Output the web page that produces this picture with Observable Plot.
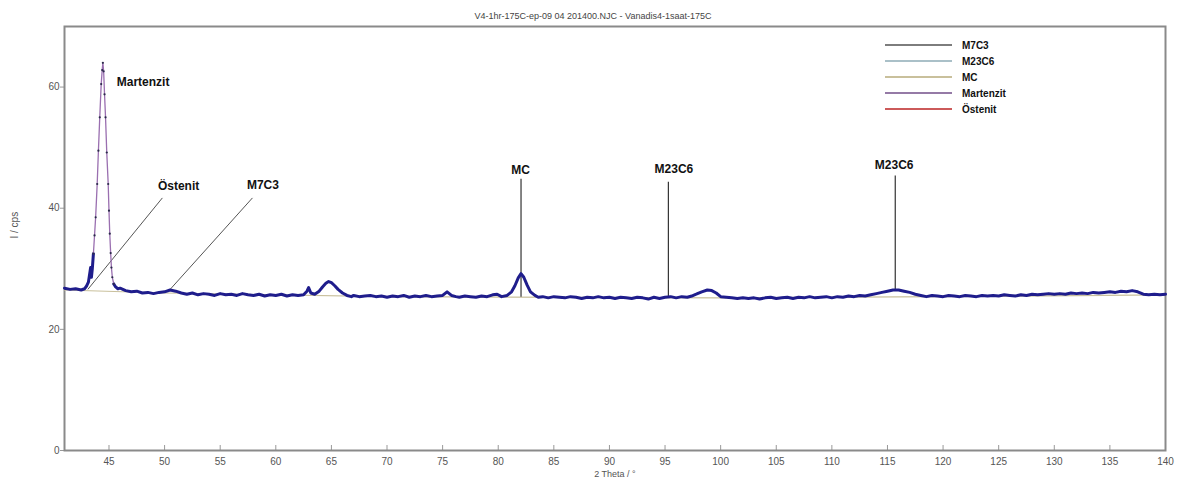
<!DOCTYPE html>
<html><head><meta charset="utf-8">
<script src="https://cdn.jsdelivr.net/npm/d3@7"></script>
<script src="https://cdn.jsdelivr.net/npm/@observablehq/plot@0.6"></script>
<style>
body{margin:0;background:#fff;font-family:"Liberation Sans",Arial,sans-serif;}
#wrap{position:relative;width:1184px;height:486px;}
#legend{position:absolute;left:885px;top:37px;font:bold 10px "Liberation Sans",Arial,sans-serif;color:#111;}
.row{display:flex;align-items:center;height:16px;}
.sw{width:67px;height:2px;margin-right:10px;}
</style></head><body><div id="wrap"><div id="legend"></div></div>
<script>
const title = "V4-1hr-175C-ep-09 04 201400.NJC - Vanadis4-1saat-175C";
const xLabel = "2 Theta / °";
const yLabel = "I / cps";
const xTicks = [45,50,55,60,65,70,75,80,85,90,95,100,105,110,115,120,125,130,135,140];
const yTicks = [0,20,40,60];

// measured scan: [2theta, intensity]
const scan = [
[41.0,26.8],[41.5,26.6],[42.0,26.7],[42.5,26.5],[42.8,26.7],[43.0,27.2],[43.15,27.8],[43.3,29.6],[43.35,30.2],[43.42,28.6],[43.5,30.0],[43.6,32.5],
[43.7,35.5],[43.8,38.5],[43.94,44.0],[44.05,49.5],[44.17,55.0],[44.3,60.5],[44.39,62.8],[44.45,64.0],[44.52,62.6],[44.6,58.8],[44.69,55.0],[44.8,49.2],
[44.93,44.0],[45.0,39.6],[45.07,35.8],[45.15,32.6],[45.22,30.2],[45.3,28.6],[45.43,27.5],[45.6,27.0],[45.8,26.7],[46.0,26.8],[46.5,26.4],[47.0,26.2],
[47.5,26.3],[48.0,26.0],[48.5,26.1],[49.0,25.9],[49.5,26.1],[50.0,26.2],[50.5,26.5],[51.0,26.3],[51.5,26.0],[52.0,25.8],[52.5,26.0],[53.0,25.7],
[53.5,25.9],[54.0,25.8],[54.5,25.6],[55.0,25.9],[55.5,25.7],[56.0,25.8],[56.5,25.6],[57.0,25.9],[57.5,25.7],[58.0,25.6],[58.5,25.8],[59.0,25.5],
[59.5,25.7],[60.0,25.6],[60.5,25.8],[61.0,25.5],[61.5,25.7],[62.0,25.6],[62.5,25.7],[62.8,26.3],[62.95,26.9],[63.15,26.0],[63.5,25.8],[63.9,26.3],
[64.2,27.0],[64.5,27.6],[64.75,27.9],[65.0,27.7],[65.3,27.2],[65.6,26.6],[66.0,26.0],[66.4,25.6],[66.8,25.4],[67.0,25.6],[67.5,25.4],[68.0,25.5],
[68.5,25.6],[69.0,25.4],[69.5,25.5],[70.0,25.3],[70.5,25.5],[71.0,25.4],[71.5,25.6],[72.0,25.3],[72.5,25.5],[73.0,25.4],[73.5,25.6],[74.0,25.4],
[74.5,25.5],[75.0,25.6],[75.4,26.2],[75.8,25.6],[76.2,25.4],[76.5,25.3],[77.0,25.5],[77.5,25.4],[78.0,25.3],[78.5,25.5],[79.0,25.4],[79.5,25.7],
[79.9,25.8],[80.3,25.4],[80.8,25.6],[81.2,26.2],[81.5,27.2],[81.8,28.5],[82.05,29.2],[82.3,28.6],[82.6,27.3],[82.9,26.2],[83.3,25.6],[83.6,25.3],
[84.0,25.4],[84.5,25.2],[85.0,25.4],[85.5,25.3],[86.0,25.2],[86.5,25.4],[87.0,25.3],[87.5,25.1],[88.0,25.3],[88.5,25.2],[89.0,25.4],[89.5,25.2],
[90.0,25.3],[90.5,25.1],[91.0,25.3],[91.5,25.2],[92.0,25.1],[92.5,25.3],[93.0,25.2],[93.5,25.0],[94.0,25.3],[94.5,25.1],[95.0,25.3],[95.5,25.4],
[96.0,25.2],[96.5,25.4],[97.0,25.3],[97.4,25.5],[97.8,25.8],[98.3,26.2],[98.8,26.5],[99.2,26.4],[99.6,26.0],[100.0,25.4],[100.5,25.3],[101.0,25.2],
[101.5,25.1],[102.0,25.2],[102.5,25.1],[103.0,25.2],[103.5,25.0],[104.0,25.2],[104.5,25.3],[105.0,25.1],[105.5,25.2],[106.0,25.3],[106.5,25.1],
[107.0,25.3],[107.5,25.2],[108.0,25.4],[108.5,25.2],[109.0,25.3],[109.5,25.4],[110.0,25.2],[110.5,25.4],[111.0,25.3],[111.5,25.5],[112.0,25.4],
[112.5,25.6],[113.0,25.5],[113.5,25.7],[114.0,25.9],[114.5,26.1],[115.0,26.3],[115.5,26.5],[116.0,26.5],[116.5,26.3],[117.0,26.1],[117.5,25.8],
[118.0,25.6],[118.5,25.4],[119.0,25.6],[119.5,25.5],[120.0,25.4],[120.5,25.6],[121.0,25.5],[121.5,25.4],[122.0,25.6],[122.5,25.5],[123.0,25.4],
[123.5,25.6],[124.0,25.5],[124.5,25.6],[125.0,25.5],[125.5,25.7],[126.0,25.6],[126.5,25.5],[127.0,25.7],[127.5,25.6],[128.0,25.8],[128.5,25.7],
[129.0,25.8],[129.5,25.9],[130.0,25.8],[130.5,25.9],[131.0,25.8],[131.5,26.0],[132.0,25.9],[132.5,26.0],[133.0,25.9],[133.5,26.1],[134.0,26.0],
[134.5,26.1],[135.0,26.2],[135.5,26.1],[136.0,26.3],[136.5,26.2],[137.0,26.4],[137.5,26.2],[138.0,25.8],[138.5,25.7],[139.0,25.8],[139.5,25.7],[140.0,25.8]
];
// Martenzit peak range drawn in its phase colour
const peakRange = [43.6, 45.43];
// reference baseline (MC phase background)
const refBaseline = [[41,26.5],[50,26.0],[70,25.4],[100,25.2],[120,25.4],[140,25.7]];

// vertical phase markers
const markerPos = [82.05, 95.3, 115.7];
const markerBottom = [25.3, 25.3, 26.4];
const markerTop = [44.8, 44.3, 45.3];
// diagonal pointers: [x1,y1,x2,y2]
const pointers = [[49.8,41.7,43.1,26.6],[57.9,41.7,50.5,26.6]];
// annotation labels
const labelText = ["Martenzit","Östenit","M7C3","MC","M23C6","M23C6"];
const labelX = [45.7,49.4,57.4,82.0,95.8,115.6];
const labelY = [60.8,43.7,43.8,46.3,46.5,47.1];
const labelAnchor = ["start","start","start","middle","middle","middle"];

// legend
const legendNames = ["M7C3","M23C6","MC","Martenzit","Östenit"];
const legendColors = ["#7d7d7d","#aac0c8","#c9c09c","#957aa6","#cc5a5a"];

const pts = scan.map(([t, i]) => ({t, i}));
const seg = d => d.t <= peakRange[0] ? "pre" : d.t >= peakRange[1] ? "post" : "peak";
const mainPts = pts.filter(d => seg(d) !== "peak");
const peakPts = pts.filter(d => d.t >= peakRange[0] - 0.01 && d.t <= peakRange[1] + 0.01);
const markers = markerPos.map((x, k) => ({x, y1: markerBottom[k], y2: markerTop[k]}));
const ptr = pointers.map(([x1,y1,x2,y2]) => ({x1,y1,x2,y2}));
const labels = labelText.map((text, k) => ({text, x: labelX[k], y: labelY[k], a: labelAnchor[k]}));
const base = refBaseline.map(([t,i]) => ({t,i}));

const chart = Plot.plot({
  width: 1184, height: 486,
  marginLeft: 64, marginRight: 19, marginTop: 26, marginBottom: 36,
  style: {fontFamily: '"Liberation Sans", Arial, sans-serif', fontSize: "10px", color: "#555", background: "#fff"},
  x: {domain: [41, 140]},
  y: {domain: [0, 70]},
  marks: [
    Plot.axisX({ticks: xTicks, tickSize: -5, tickPadding: 12, label: null, stroke: "#999"}),
    Plot.axisY({ticks: yTicks, tickSize: 4, tickPadding: 1, label: null, stroke: "#999"}),
    Plot.frame({stroke: "#8a8a8a", strokeWidth: 2}),
    Plot.line(base, {x: "t", y: "i", stroke: legendColors[2], strokeWidth: 1.2}),
    Plot.ruleX(markers, {x: "x", y1: "y1", y2: "y2", stroke: "#333", strokeWidth: 1.2}),
    Plot.link(ptr, {x1: "x1", y1: "y1", x2: "x2", y2: "y2", stroke: "#555", strokeWidth: 1}),
    Plot.line(mainPts, {x: "t", y: "i", z: seg, stroke: "#1f1d8c", strokeWidth: 3}),
    Plot.line(peakPts, {x: "t", y: "i", stroke: "#9a6fb0", strokeWidth: 1.3}),
    Plot.dot(peakPts, {x: "t", y: "i", r: 1.1, fill: "#2a2a4a"}),
    Plot.text(labels.filter(d => d.a === "start"), {x: "x", y: "y", text: "text", textAnchor: "start", fontWeight: "bold", fontSize: 12, fill: "#111"}),
    Plot.text(labels.filter(d => d.a === "middle"), {x: "x", y: "y", text: "text", textAnchor: "middle", fontWeight: "bold", fontSize: 12, fill: "#111"}),
    Plot.text([title], {frameAnchor: "top", dx: -22, dy: -14, fontSize: 9, fill: "#444"}),
    Plot.text([xLabel], {frameAnchor: "bottom", dy: 26, fontSize: 9, fill: "#555"}),
    Plot.text([yLabel], {frameAnchor: "left", dx: -50, rotate: -90, fontSize: 10, fill: "#555"})
  ]
});
const wrap = document.getElementById("wrap");
wrap.insertBefore(chart, wrap.firstChild);
const lg = document.getElementById("legend");
legendNames.forEach((n, k) => {
  const r = document.createElement("div"); r.className = "row";
  const s = document.createElement("div"); s.className = "sw"; s.style.background = legendColors[k];
  const t = document.createElement("span"); t.textContent = n;
  r.appendChild(s); r.appendChild(t); lg.appendChild(r);
});
</script></body></html>
